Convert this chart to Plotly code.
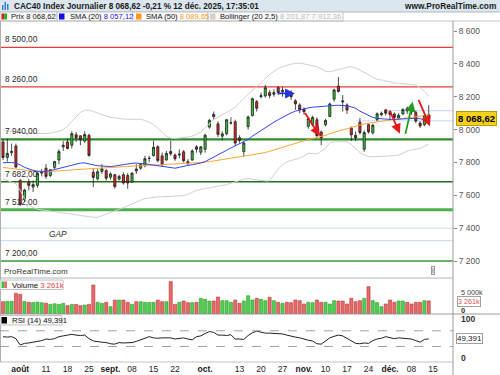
import pandas as pd
import plotly.graph_objects as go

W, H = 500, 375

# ---------------- data ----------------
all_days = [d.strftime("%Y-%m-%d") for d in pd.bdate_range("2025-07-28", "2025-12-31")]
N = 100
dates = all_days[:N]

opens = [7925, 7830, 7860, 7900, 7690, 7580, 7680, 7650, 7660, 7735,
         7765, 7720, 7770, 7815, 7895, 7925, 7905, 7968, 7962, 7930,
         7965, 7740, 7700, 7745, 7750, 7710, 7725, 7698, 7725, 7720,
         7680, 7760, 7765, 7780, 7825, 7842, 7895, 7840, 7815, 7866,
         7845, 7845, 7865, 7805, 7815, 7895, 7862, 7880, 8015, 8093,
         8035, 7960, 7975, 8040, 8048, 7951, 7866, 8018, 8085, 8170,
         8200, 8205, 8225, 8215, 8255, 8230, 8225, 8215, 8175, 8150,
         8125, 8020, 8030, 8060, 7985, 8030, 8080, 8185, 8265, 8175,
         8150, 8010, 7965, 8045, 7880, 8030, 7980, 8060, 8090, 8120,
         8110, 8095, 8070, 8095, 8130, 8115, 8105, 8040, 8030, 8090]
highs = [7940, 7945, 7915, 7915, 7700, 7640, 7700, 7690, 7745, 7760,
         7790, 7760, 7810, 7880, 7930, 7945, 7990, 7985, 7965, 7990,
         7975, 7760, 7760, 7790, 7760, 7740, 7730, 7725, 7740, 7735,
         7740, 7790, 7790, 7840, 7840, 7932, 7905, 7860, 7870, 7932,
         7855, 7880, 7875, 7820, 7880, 7905, 7900, 7975, 8065, 8110,
         8050, 7990, 8065, 8075, 8060, 7965, 7925, 8085, 8195, 8180,
         8225, 8272, 8240, 8245, 8265, 8260, 8235, 8240, 8185, 8160,
         8135, 8075, 8085, 8075, 7995, 8065, 8165, 8250, 8320, 8210,
         8160, 8020, 7990, 8070, 7995, 8040, 8035, 8105, 8110, 8125,
         8115, 8105, 8100, 8130, 8140, 8135, 8115, 8050, 8095, 8150]
lows = [7815, 7805, 7840, 7765, 7535, 7560, 7630, 7620, 7645, 7715,
        7700, 7710, 7760, 7790, 7870, 7880, 7885, 7925, 7905, 7920,
        7835, 7650, 7690, 7730, 7690, 7695, 7640, 7690, 7665, 7640,
        7675, 7730, 7755, 7770, 7800, 7835, 7800, 7775, 7810, 7840,
        7810, 7825, 7800, 7780, 7810, 7860, 7845, 7860, 8005, 8060,
        7955, 7935, 7965, 8030, 7900, 7920, 7835, 8000, 8080, 8110,
        8190, 8195, 8190, 8200, 8210, 8200, 8195, 8180, 8120, 8100,
        8090, 8005, 8020, 7955, 7905, 8020, 8075, 8170, 8225, 8110,
        8095, 7930, 7930, 7970, 7865, 7975, 7970, 8050, 8080, 8085,
        8060, 8060, 8060, 8090, 8095, 8090, 8040, 8010, 8020, 8045]
closes = [7830, 7855, 7866, 7772, 7546, 7632, 7660, 7665, 7735, 7743,
          7715, 7755, 7805, 7866, 7905, 7885, 7975, 7950, 7938, 7970,
          7843, 7709, 7743, 7762, 7704, 7730, 7654, 7715, 7675, 7675,
          7735, 7749, 7787, 7823, 7825, 7892, 7812, 7786, 7854, 7853,
          7822, 7850, 7810, 7795, 7870, 7880, 7895, 7966, 8056, 8079,
          7971, 7974, 8060, 8041, 7918, 7934, 7918, 8077, 8188, 8130,
          8206, 8255, 8207, 8225, 8225, 8239, 8215, 8200, 8157, 8121,
          8109, 8067, 8074, 7964, 7950, 8055, 8156, 8241, 8232, 8170,
          8119, 7968, 7950, 7982, 7982, 7987, 8026, 8096, 8099, 8100,
          8092, 8074, 8087, 8122, 8114, 8108, 8052, 8022, 8085.6, 8068.62]

volume_k = [3060, 3160, 3160, 5150, 4900, 3100, 2900, 2850, 2950, 2800,
            2700, 2400, 2550, 2400, 2650, 2070, 2400, 2400, 2070, 2240,
            2400, 7210, 2900, 2650, 2900, 1820, 3460, 3460, 3460, 2900,
            2400, 3060, 3060, 2900, 2900, 2900, 3460, 3060, 3060, 8040,
            2400, 2900, 3230, 2820, 2820, 2900, 3900, 3650, 3230, 3230,
            4230, 3310, 3310, 2900, 3480, 2650, 3230, 4550, 3480, 3900,
            3650, 3310, 4150, 3310, 2900, 2650, 2900, 2820, 3480, 3310,
            2490, 2900, 2820, 3480, 2900, 2900, 2490, 3310, 3230, 3230,
            2490, 3900, 3060, 3310, 3900, 6800, 3310, 2820, 1820, 2490,
            3480, 2900, 3230, 3230, 2900, 2490, 2900, 2900, 3310, 3261]

rsi = [55, 54, 55, 50, 34, 38, 39, 41, 43, 45,
       49, 48, 50, 55, 57, 59, 61, 59, 58, 59,
       50, 44, 42, 41, 40, 37, 36, 40, 39, 40,
       40, 43, 47, 51, 55, 52, 51, 52, 52, 52,
       49, 50, 52, 49, 47, 55, 57, 63, 68, 66,
       59, 59, 58, 60, 49, 49, 48, 58, 65, 69,
       67, 64, 64, 63, 63, 62, 59, 56, 54, 52,
       48, 46, 44, 37, 36, 44, 52, 56, 59, 57,
       51, 44, 38, 37, 39, 38, 45, 49, 51, 55,
       52, 50, 52, 51, 50, 49, 45, 41, 48, 49.391]

sma20 = [7798, 7800, 7800, 7795, 7785, 7770, 7760, 7752, 7746, 7744,
         7745, 7750, 7757, 7763, 7770, 7778, 7786, 7793, 7796, 7797,
         7793, 7785, 7780, 7778, 7774, 7775, 7778, 7783, 7788, 7792,
         7795, 7796, 7795, 7792, 7788, 7784, 7780, 7776, 7773, 7766,
         7765, 7770, 7778, 7782, 7786, 7790, 7796, 7805, 7818, 7832,
         7846, 7860, 7874, 7888, 7900, 7912, 7925, 7940, 7960, 7978,
         7995, 8012, 8028, 8045, 8060, 8075, 8090, 8102, 8112, 8120,
         8127, 8132, 8136, 8139, 8141, 8143, 8145, 8147, 8148, 8147,
         8144, 8138, 8130, 8112, 8098, 8085, 8074, 8068, 8065, 8063,
         8062, 8062, 8063, 8065, 8067, 8069, 8069, 8066, 8062, 8057.12]
sma50 = [7770, 7766, 7762, 7759, 7756, 7753, 7750, 7747, 7745, 7744,
         7744, 7745, 7747, 7750, 7753, 7755, 7757, 7758, 7760, 7761,
         7762, 7763, 7764, 7765, 7767, 7768, 7770, 7772, 7774, 7776,
         7778, 7779, 7780, 7781, 7782, 7784, 7785, 7787, 7789, 7791,
         7792, 7793, 7795, 7796, 7797, 7798, 7799, 7801, 7805, 7809,
         7813, 7817, 7821, 7825, 7830, 7834, 7838, 7842, 7846, 7850,
         7855, 7860, 7868, 7876, 7884, 7893, 7902, 7911, 7919, 7928,
         7934, 7940, 7946, 7952, 7958, 7965, 7975, 7983, 7991, 7999,
         8007, 8015, 8022, 8028, 8034, 8039, 8044, 8048, 8052, 8055,
         8058, 8061, 8063, 8066, 8069, 8072, 8076, 8080, 8085, 8089.65]
bb_upper = [7998, 7992, 7988, 7985, 7984, 7982, 7978, 7976, 7975, 7975,
            7976, 7978, 7982, 7990, 8000, 8020, 8050, 8080, 8105, 8118,
            8118, 8110, 8100, 8092, 8082, 8075, 8070, 8066, 8064, 8063,
            8063, 8063, 8063, 8055, 8045, 8030, 8010, 7985, 7960, 7948,
            7946, 7948, 7952, 7955, 7960, 7970, 7985, 8010, 8040, 8060,
            8075, 8090, 8105, 8118, 8135, 8165, 8190, 8215, 8240, 8265,
            8290, 8315, 8335, 8355, 8372, 8383, 8392, 8398, 8403, 8404,
            8400, 8395, 8388, 8382, 8370, 8355, 8352, 8358, 8363, 8372,
            8380, 8383, 8375, 8362, 8350, 8335, 8318, 8305, 8302, 8295,
            8288, 8284, 8282, 8280, 8277, 8274, 8271, 8255, 8232, 8201.87]
bb_lower = [7700, 7690, 7682, 7670, 7630, 7580, 7545, 7525, 7515, 7511,
            7508, 7505, 7500, 7496, 7492, 7488, 7482, 7478, 7474, 7472,
            7470, 7466, 7466, 7475, 7488, 7495, 7505, 7515, 7525, 7537,
            7550, 7560, 7570, 7580, 7584, 7587, 7590, 7591, 7592, 7592,
            7594, 7596, 7598, 7606, 7618, 7630, 7636, 7640, 7645, 7650,
            7655, 7660, 7665, 7672, 7680, 7690, 7698, 7703, 7698, 7693,
            7690, 7688, 7688, 7725, 7760, 7785, 7805, 7812, 7818, 7825,
            7840, 7856, 7854, 7851, 7868, 7886, 7920, 7926, 7926, 7926,
            7926, 7910, 7886, 7860, 7845, 7835, 7835, 7835, 7835, 7838,
            7840, 7843, 7845, 7855, 7870, 7876, 7880, 7886, 7898, 7912.36]

price_ticks = [7200, 7400, 7600, 7800, 8000, 8200, 8400, 8600]
tick_dates = ["2025-08-01", "2025-08-11", "2025-08-18", "2025-08-25", "2025-09-01",
              "2025-09-08", "2025-09-15", "2025-09-22", "2025-10-01", "2025-10-13",
              "2025-10-20", "2025-10-27", "2025-11-03", "2025-11-10", "2025-11-17",
              "2025-11-24", "2025-12-01", "2025-12-08", "2025-12-15"]
tick_labels = ["<b>août</b>", "11", "18", "25", "<b>sept.</b>", "08", "15", "22",
               "<b>oct.</b>", "13", "20", "27", "<b>nov.</b>", "10", "17", "24",
               "<b>déc.</b>", "08", "15"]

# horizontal levels: (price, color, width, label)
levels = [(8500, "#e83a3a", 1.3, "8 500,00"), (8260, "#e83a3a", 1.3, "8 260,00"),
          (7940, "#2e8b2e", 2.2, "7 940,00"), (7682, "#1f6f1f", 1.6, "7 682,00"),
          (7512, "#4caf50", 3.0, "7 512,00"), (7400, "#c9d6f2", 1.0, None),
          (7324, "#c9d6f2", 1.0, None), (7200, "#3a9a3a", 1.6, "7 200,00")]
# short light blue levels: (start date, price)
short_levels = [("2025-11-28", 8115), ("2025-11-19", 8053)]

# arrows: (x_from, price_from, x_to, price_to, color) in trading-day positions
arrows = [(63.6, 8220, 67.9, 8220, "#2336d8"),
          (70.0, 8110, 73.7, 7960, "#e21a1a"),
          (89.8, 8125, 92.3, 7975, "#e21a1a"),
          (96.5, 8190, 99.3, 8020, "#e21a1a"),
          (93.5, 7965, 95.3, 8170, "#22a022")]

# ---------------- helpers for layout positions ----------------
def px(x):
    return x / W

def py(y):
    return 1 - y / H

FONT = "Liberation Sans, Arial, sans-serif"
xpos = list(range(N))
pos_of = {d: i for i, d in enumerate(all_days)}

GREEN = "#33c633"
RED = "#e5231f"

fig = go.Figure()

# Bollinger bands
fig.add_trace(go.Scatter(x=xpos, y=bb_upper, mode="lines", line=dict(color="#d0d0d0", width=1), yaxis="y"))
fig.add_trace(go.Scatter(x=xpos, y=bb_lower, mode="lines", line=dict(color="#d0d0d0", width=1), yaxis="y"))
# SMAs
fig.add_trace(go.Scatter(x=xpos, y=sma50, mode="lines", line=dict(color="#ffa733", width=1), yaxis="y"))
fig.add_trace(go.Scatter(x=xpos, y=sma20, mode="lines", line=dict(color="#3344ee", width=1), yaxis="y"))

# candles
fig.add_trace(go.Candlestick(
    x=xpos, open=opens, high=highs, low=lows, close=closes, yaxis="y",
    increasing=dict(fillcolor=GREEN, line=dict(color="#1e1e1e", width=0.8)),
    decreasing=dict(fillcolor=RED, line=dict(color="#1e1e1e", width=0.8)),
    whiskerwidth=0, hoverinfo="skip"))

# volume
vcol = ["#4fcf4f" if c >= o else "#e56b6b" for o, c in zip(opens, closes)]
vline = ["#2a9a2a" if c >= o else "#c03030" for o, c in zip(opens, closes)]
fig.add_trace(go.Bar(x=xpos, y=volume_k, yaxis="y2", marker=dict(color=vcol, line=dict(color=vline, width=0.6)), width=0.72))

# RSI
fig.add_trace(go.Scatter(x=xpos, y=rsi, mode="lines", line=dict(color="#222222", width=1), yaxis="y3"))

shapes = []
annotations = []

# header
shapes.append(dict(type="rect", xref="paper", yref="paper", x0=0, x1=1, y0=py(12), y1=py(0),
                   fillcolor="#dbe6ee", line=dict(width=0), layer="below"))
shapes.append(dict(type="line", xref="paper", yref="paper", x0=0, x1=1, y0=py(12), y1=py(12),
                   line=dict(color="#aab8c4", width=1)))
for bx, bh in [(2, 5), (4.5, 8), (7, 6)]:
    shapes.append(dict(type="rect", xref="paper", yref="paper", x0=px(bx), x1=px(bx + 1.5),
                       y0=py(10), y1=py(10 - bh), fillcolor="#3b7fd4", line=dict(width=0)))
annotations.append(dict(xref="paper", yref="paper", x=px(12), y=py(6.2), xanchor="left", yanchor="middle",
                        text="<b>CAC40 Index Journalier 8 068,62 -0,21 % 12 déc. 2025, 17:35:01</b>",
                        showarrow=False, font=dict(size=8.2, color="#1a1a1a", family=FONT)))
annotations.append(dict(xref="paper", yref="paper", x=px(498), y=py(6.2), xanchor="right", yanchor="middle",
                        text="<b>www.ProRealTime.com</b>", showarrow=False,
                        font=dict(size=8.3, color="#1a1a1a", family=FONT)))

# legend row
for x0, x1 in [(0, 57), (57, 133), (133, 208), (208, 343)]:
    shapes.append(dict(type="rect", xref="paper", yref="paper", x0=px(x0), x1=px(x1), y0=py(21), y1=py(12),
                       fillcolor="#fafafa", line=dict(color="#c4c4c4", width=1)))
shapes.append(dict(type="rect", xref="paper", yref="paper", x0=px(1.5), x1=px(4.2), y0=py(19.5), y1=py(13.5),
                   fillcolor="#d42020", line=dict(width=0)))
shapes.append(dict(type="rect", xref="paper", yref="paper", x0=px(4.2), x1=px(7), y0=py(19.5), y1=py(13.5),
                   fillcolor="#22b022", line=dict(width=0)))
for sx, col in [(59, "#1010ee"), (136, "#ff9a1a"), (210, "#d0d0d0")]:
    shapes.append(dict(type="rect", xref="paper", yref="paper", x0=px(sx), x1=px(sx + 5.5), y0=py(19.5), y1=py(13.5),
                       fillcolor=col, line=dict(width=0)))
legend_items = [(8.5, "Prix 8 068,62"),
                (67.5, "SMA (20) <span style='color:#2020ee'>8 057,12</span>"),
                (143.5, "SMA (50) <span style='color:#ff9a1a'>8 089,65</span>"),
                (217.5, "Bollinger (20 2,5) <span style='color:#bdbdbd'>8 201,87 7 912,36</span>")]
for lx, txt in legend_items:
    annotations.append(dict(xref="paper", yref="paper", x=px(lx), y=py(16.7), xanchor="left", yanchor="middle",
                            text=txt, showarrow=False, font=dict(size=7.6, color="#111111", family=FONT)))

# frame lines
shapes.append(dict(type="line", xref="paper", yref="paper", x0=0, x1=1, y0=py(21), y1=py(21),
                   line=dict(color="#c4c4c4", width=1)))
shapes.append(dict(type="line", xref="paper", yref="paper", x0=px(0.5), x1=px(0.5), y0=py(21), y1=py(362),
                   line=dict(color="#b0b0b0", width=1)))
shapes.append(dict(type="line", xref="paper", yref="paper", x0=px(453), x1=px(453), y0=py(21), y1=py(375),
                   line=dict(color="#9a9a9a", width=1)))
shapes.append(dict(type="line", xref="paper", yref="paper", x0=0, x1=px(453), y0=py(278), y1=py(278),
                   line=dict(color="#a8b4bc", width=1)))
shapes.append(dict(type="line", xref="paper", yref="paper", x0=0, x1=1, y0=py(314), y1=py(314),
                   line=dict(color="#9a9a9a", width=1)))
shapes.append(dict(type="line", xref="paper", yref="paper", x0=0, x1=px(453), y0=py(362), y1=py(362),
                   line=dict(color="#c4c4c4", width=1)))

# horizontal levels
for lvl, col, wid, lab in levels:
    shapes.append(dict(type="line", xref="x domain", yref="y", x0=0, x1=1, y0=lvl, y1=lvl,
                       line=dict(color=col, width=wid), layer="below"))
    if lab:
        annotations.append(dict(xref="paper", yref="y", x=px(3), y=lvl, xanchor="left", yanchor="bottom",
                                yshift=1, text=lab, showarrow=False,
                                font=dict(size=8.3, color="#2a2a2a", family=FONT)))
annotations.append(dict(xref="paper", yref="y", x=px(47), y=(7400 + 7324) / 2, xanchor="left", yanchor="middle",
                        text="<i>GAP</i>", showarrow=False, font=dict(size=8.3, color="#2a2a2a", family=FONT)))
for d, lvl in short_levels:
    shapes.append(dict(type="line", xref="x", yref="y", x0=pos_of[d], x1=104.65, y0=lvl, y1=lvl,
                       line=dict(color="#c9d6f2", width=1), layer="below"))

# arrows
for x0, y0, x1, y1, col in arrows:
    annotations.append(dict(x=x1, y=y1, ax=x0, ay=y0, xref="x", yref="y", axref="x", ayref="y",
                            showarrow=True, arrowhead=2, arrowsize=1.1, arrowwidth=1.8, arrowcolor=col, text=""))

# price box on right
annotations.append(dict(xref="paper", yref="y", x=px(456), y=closes[-1], xanchor="left", yanchor="middle",
                        text="<b>8 068,62</b>", showarrow=False, bgcolor="#f6d11a", bordercolor="#b89b10",
                        borderwidth=1, borderpad=1, font=dict(size=9.5, color="#000000", family=FONT)))

# bottom of price panel
annotations.append(dict(xref="paper", yref="paper", x=px(1.5), y=py(271), xanchor="left", yanchor="middle",
                        text="ProRealTime.com", showarrow=False, font=dict(size=8, color="#333333", family=FONT)))
annotations.append(dict(xref="paper", yref="paper", x=px(433), y=py(270), xanchor="center", yanchor="middle",
                        text="i", showarrow=False, bgcolor="#f0f0f0", bordercolor="#9a9a9a", borderwidth=1,
                        borderpad=0, font=dict(size=7, color="#555555", family=FONT)))

# volume legend
shapes.append(dict(type="rect", xref="paper", yref="paper", x0=0, x1=px(63), y0=py(289.5), y1=py(280),
                   fillcolor="#fafafa", line=dict(color="#c4c4c4", width=1)))
shapes.append(dict(type="rect", xref="paper", yref="paper", x0=px(1.5), x1=px(4.2), y0=py(288), y1=py(281.5),
                   fillcolor="#3ac83a", line=dict(width=0)))
shapes.append(dict(type="rect", xref="paper", yref="paper", x0=px(4.2), x1=px(7), y0=py(288), y1=py(281.5),
                   fillcolor="#e56b6b", line=dict(width=0)))
annotations.append(dict(xref="paper", yref="paper", x=px(9.5), y=py(285), xanchor="left", yanchor="middle",
                        text="Volume <span style='color:#e05050'>3 261k</span>", showarrow=False,
                        font=dict(size=7.8, color="#111111", family=FONT)))
annotations.append(dict(xref="paper", yref="paper", x=px(459), y=py(292.5), xanchor="left", yanchor="middle",
                        text="5 000k", showarrow=False, font=dict(size=7.2, color="#444444", family=FONT)))
annotations.append(dict(xref="paper", yref="paper", x=px(457), y=py(301.5), xanchor="left", yanchor="middle",
                        text="3 261k", showarrow=False, bgcolor="#ffffff", bordercolor="#a0a0a0", borderwidth=1,
                        borderpad=0, font=dict(size=7.2, color="#e05050", family=FONT)))
annotations.append(dict(xref="paper", yref="paper", x=px(459), y=py(310.5), xanchor="left", yanchor="middle",
                        text="<b>0</b>", showarrow=False, font=dict(size=7.5, color="#333333", family=FONT)))

# RSI legend and labels
shapes.append(dict(type="rect", xref="paper", yref="paper", x0=0, x1=px(62), y0=py(325), y1=py(315.5),
                   fillcolor="#fafafa", line=dict(color="#c4c4c4", width=1)))
shapes.append(dict(type="rect", xref="paper", yref="paper", x0=px(1.5), x1=px(7), y0=py(323.5), y1=py(317),
                   fillcolor="#000000", line=dict(width=0)))
annotations.append(dict(xref="paper", yref="paper", x=px(9.5), y=py(320.5), xanchor="left", yanchor="middle",
                        text="RSI (14) 49,391", showarrow=False, font=dict(size=7.8, color="#111111", family=FONT)))
for lv in (70, 30):
    shapes.append(dict(type="line", xref="x domain", yref="y3", x0=0, x1=1, y0=lv, y1=lv,
                       line=dict(color="#a0a0a0", width=1, dash="dash")))
annotations.append(dict(xref="paper", yref="y3", x=px(459), y=100, xanchor="left", yanchor="middle",
                        text="<b>100</b>", showarrow=False, font=dict(size=8.5, color="#333333", family=FONT)))
annotations.append(dict(xref="paper", yref="y3", x=px(459), y=0, xanchor="left", yanchor="middle",
                        text="<b>0</b>", showarrow=False, font=dict(size=8.5, color="#333333", family=FONT)))
annotations.append(dict(xref="paper", yref="y3", x=px(456), y=rsi[-1], xanchor="left", yanchor="middle",
                        text="49,391", showarrow=False, bgcolor="#ffffff", bordercolor="#a0a0a0", borderwidth=1,
                        borderpad=0, font=dict(size=8, color="#222222", family=FONT)))

fig.update_layout(
    width=W, height=H, margin=dict(l=0, r=0, t=0, b=0),
    paper_bgcolor="white", plot_bgcolor="white", showlegend=False,
    font=dict(family=FONT, size=9, color="#333333"),
    bargap=0.2,
    xaxis=dict(domain=[0, px(453)], range=[-0.7, 104.65], anchor="y3",
               tickvals=[pos_of[d] for d in tick_dates], ticktext=tick_labels,
               showgrid=False, zeroline=False, showline=False, ticks="", ticklen=0,
               tickfont=dict(size=8.5, color="#222222"), rangeslider=dict(visible=False)),
    yaxis=dict(domain=[py(278), py(21)], range=[7096.5, 8661], side="right", anchor="x",
               tickvals=price_ticks, ticktext=[f"{t:,}".replace(",", " ") for t in price_ticks],
               ticks="outside", ticklen=3, tickcolor="#888888", showgrid=False, zeroline=False,
               tickfont=dict(size=8.5, color="#555555")),
    yaxis2=dict(domain=[py(314), py(278)], range=[0, 8955], anchor="x", side="right",
                showticklabels=False, showgrid=False, zeroline=False, ticks=""),
    yaxis3=dict(domain=[py(362), py(314)], range=[-9.4, 112.7], anchor="x", side="right",
                showticklabels=False, showgrid=False, zeroline=False, ticks=""),
    shapes=shapes, annotations=annotations,
)

fig.write_html("out.html")
